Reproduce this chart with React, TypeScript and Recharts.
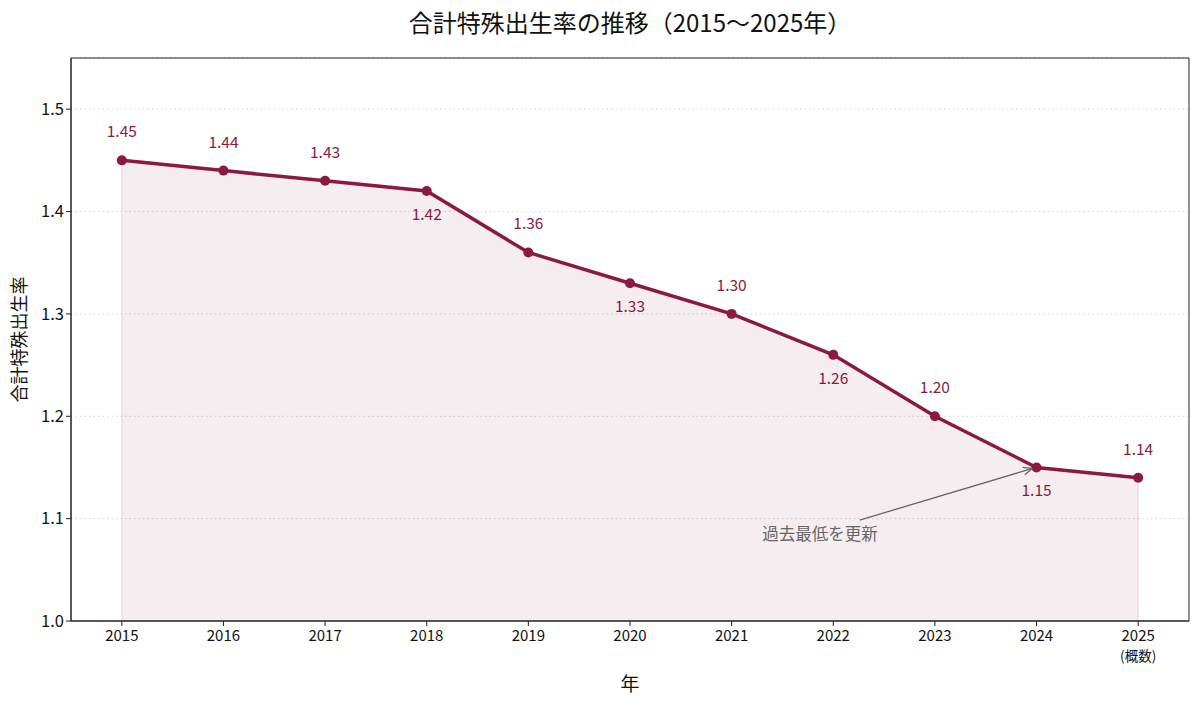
import React from 'react';
import {
  ComposedChart, Line, Area, XAxis, YAxis, CartesianGrid, ReferenceArea,
  ReferenceLine, ReferenceDot, LabelList,
} from 'recharts';

const years = [2015, 2016, 2017, 2018, 2019, 2020, 2021, 2022, 2023, 2024, 2025];
const rates = [1.45, 1.44, 1.43, 1.42, 1.36, 1.33, 1.30, 1.26, 1.20, 1.15, 1.14];
const labelSide = ['up', 'up', 'up', 'down', 'up', 'down', 'up', 'down', 'up', 'down', 'up'];
const yTicks = [1.0, 1.1, 1.2, 1.3, 1.4, 1.5];
const xSubLabels: Record<number, string> = { 2025: '(概数)' };

const data = years.map((y, i) => ({ year: y, rate: rates[i] }));

const COLOR = '#8b1a3e';
const FONT = '"Noto Sans CJK JP", "Noto Sans", sans-serif';

const XTick = (props: any) => {
  const { x, y, payload } = props;
  const sub = xSubLabels[payload.value];
  return (
    <g>
      <text x={x} y={y + 13} textAnchor="middle" fontSize={15} fill="#111" fontFamily={FONT}>
        {payload.value}
      </text>
      {sub && (
        <text x={x} y={y + 33} textAnchor="middle" fontSize={13.5} fill="#111" fontFamily={FONT}>
          {sub}
        </text>
      )}
    </g>
  );
};

const ValueLabel = (props: any) => {
  const { x, y, index, value } = props;
  const up = labelSide[index] === 'up';
  return (
    <text
      x={x}
      y={up ? y - 30 : y + 22}
      textAnchor="middle"
      dominantBaseline="central"
      fontSize={15.5}
      fill={COLOR}
      fontFamily={FONT}
    >
      {Number(value).toFixed(2)}
    </text>
  );
};

const YLabel = (props: any) => {
  const { viewBox } = props;
  const cy = viewBox.y + viewBox.height / 2;
  return (
    <text
      x={18}
      y={cy}
      transform={`rotate(-90, 18, ${cy})`}
      textAnchor="middle"
      dominantBaseline="central"
      fontSize={18}
      fill="#111"
      fontFamily={FONT}
    >
      合計特殊出生率
    </text>
  );
};

const XLabel = (props: any) => {
  const { viewBox } = props;
  const cx = viewBox.x + viewBox.width / 2;
  return (
    <text x={cx} y={682} textAnchor="middle" dominantBaseline="central" fontSize={19} fill="#111" fontFamily={FONT}>
      年
    </text>
  );
};

const ArrowShape = (props: any) => {
  const { x1, y1, x2, y2 } = props;
  if (x1 == null) return null;
  const ang = Math.atan2(y2 - y1, x2 - x1);
  const L = 10;
  const a1 = ang + Math.PI - 0.4;
  const a2 = ang + Math.PI + 0.4;
  return (
    <g>
      <line x1={x1} y1={y1} x2={x2} y2={y2} stroke="#666" strokeWidth={1.3} />
      <polyline
        points={`${x2 + L * Math.cos(a1)},${y2 + L * Math.sin(a1)} ${x2},${y2} ${x2 + L * Math.cos(a2)},${y2 + L * Math.sin(a2)}`}
        fill="none"
        stroke="#666"
        strokeWidth={1.3}
      />
    </g>
  );
};

export default function App() {
  return (
    <div style={{ position: 'absolute', left: 0, top: 0, width: 1200, height: 705, background: '#fff', fontFamily: FONT }}>
      <div
        style={{
          position: 'absolute', left: 71, top: 5, width: 1118, textAlign: 'center',
          fontSize: 24, lineHeight: '34px', color: '#111', fontFamily: FONT,
        }}
      >
        合計特殊出生率の推移（2015〜2025年）
      </div>
      <ComposedChart
        width={1200}
        height={705}
        data={data}
        margin={{ top: 58, right: 11, bottom: 54, left: 0 }}
      >
        <CartesianGrid vertical={false} stroke="#d4d4d4" strokeDasharray="1.5 3" />
        <XAxis
          dataKey="year"
          type="number"
          domain={[2014.5, 2025.5]}
          ticks={years}
          interval={0}
          height={30}
          tick={<XTick />}
          tickLine={{ stroke: '#222' }}
          tickSize={5}
          axisLine={{ stroke: '#222' }}
          label={<XLabel />}
        />
        <YAxis
          type="number"
          domain={[1.0, 1.55]}
          ticks={yTicks}
          allowDataOverflow
          width={71}
          tickFormatter={(v: number) => v.toFixed(1)}
          tick={{ fontSize: 16.5, fill: '#111', fontFamily: FONT }}
          tickLine={{ stroke: '#222' }}
          tickSize={5}
          axisLine={{ stroke: '#222' }}
          label={<YLabel />}
        />
        <ReferenceArea x1={2014.5} x2={2025.5} y1={1.0} y2={1.55} fill="none" stroke="#222" strokeWidth={1} ifOverflow="visible" />
        <Area
          dataKey="rate"
          type="linear"
          fill={COLOR}
          fillOpacity={0.08}
          stroke="none"
          isAnimationActive={false}
        />
        <ReferenceLine
          segment={[{ x: years[0], y: 1.0 }, { x: years[0], y: rates[0] }]}
          stroke={COLOR}
          strokeOpacity={0.1}
          strokeWidth={1.5}
        />
        <ReferenceLine
          segment={[{ x: years[years.length - 1], y: 1.0 }, { x: years[years.length - 1], y: rates[rates.length - 1] }]}
          stroke={COLOR}
          strokeOpacity={0.1}
          strokeWidth={1.5}
        />
        <Line
          dataKey="rate"
          type="linear"
          stroke={COLOR}
          strokeWidth={3.5}
          dot={{ r: 5, fill: COLOR, stroke: COLOR, strokeWidth: 0 }}
          activeDot={false}
          isAnimationActive={false}
        >
          <LabelList dataKey="rate" content={<ValueLabel />} />
        </Line>
        <ReferenceLine
          segment={[{ x: 2022.26, y: 1.0986 }, { x: 2023.96, y: 1.149 }]}
          shape={<ArrowShape />}
        />
        <ReferenceDot
          x={2021.87}
          y={1.085}
          r={0}
          fill="none"
          stroke="none"
          label={{ value: '過去最低を更新', position: 'center', fontSize: 16.5, fill: '#666', fontFamily: FONT }}
        />
      </ComposedChart>
    </div>
  );
}
